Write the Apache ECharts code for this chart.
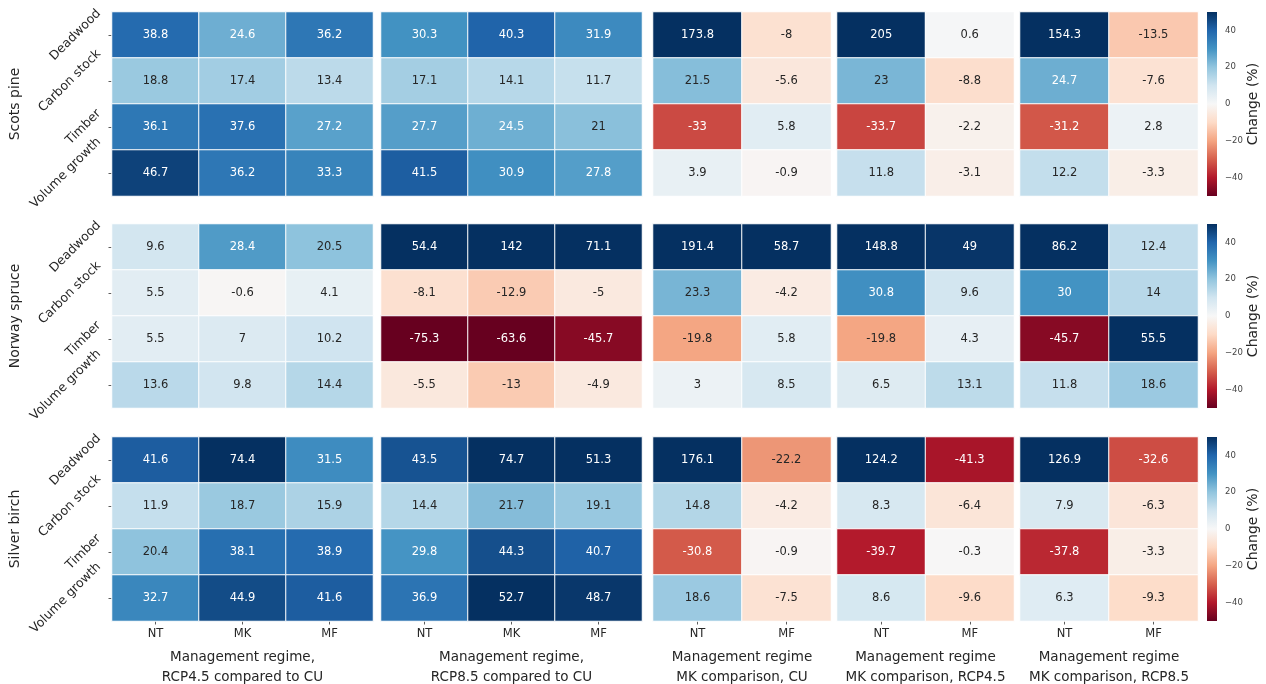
<!DOCTYPE html>
<html>
<head>
<meta charset="utf-8">
<title>Change (%) by management regime</title>
<script src="https://cdn.jsdelivr.net/npm/echarts@6/dist/echarts.min.js"></script>
<style>
  html, body { margin: 0; padding: 0; background: #ffffff; }
  #chart { width: 1266px; height: 684px; }
</style>
</head>
<body>
<div id="chart"></div>
<script>
// ---- categories ----
const species = ['Scots pine', 'Norway spruce', 'Silver birch'];
const indicators = ['Deadwood', 'Carbon stock', 'Timber', 'Volume growth'];
const regimesThree = ['NT', 'MK', 'MF'];
const regimesTwo = ['NT', 'MF'];
const panelTitles = [
  'Management regime,\nRCP4.5 compared to CU',
  'Management regime,\nRCP8.5 compared to CU',
  'Management regime\nMK comparison, CU',
  'Management regime\nMK comparison, RCP4.5',
  'Management regime\nMK comparison, RCP8.5'
];
const colorbarTicks = [-40, -20, 0, 20, 40];
const colorbarRange = [-50, 50];

// ---- values (rows: Deadwood, Carbon stock, Timber, Volume growth) ----
const scotsPineRcp45 = [[38.8, 24.6, 36.2], [18.8, 17.4, 13.4], [36.1, 37.6, 27.2], [46.7, 36.2, 33.3]];
const scotsPineRcp85 = [[30.3, 40.3, 31.9], [17.1, 14.1, 11.7], [27.7, 24.5, 21], [41.5, 30.9, 27.8]];
const scotsPineMkCU = [[173.8, -8], [21.5, -5.6], [-33, 5.8], [3.9, -0.9]];
const scotsPineMkRcp45 = [[205, 0.6], [23, -8.8], [-33.7, -2.2], [11.8, -3.1]];
const scotsPineMkRcp85 = [[154.3, -13.5], [24.7, -7.6], [-31.2, 2.8], [12.2, -3.3]];

const norwaySpruceRcp45 = [[9.6, 28.4, 20.5], [5.5, -0.6, 4.1], [5.5, 7, 10.2], [13.6, 9.8, 14.4]];
const norwaySpruceRcp85 = [[54.4, 142, 71.1], [-8.1, -12.9, -5], [-75.3, -63.6, -45.7], [-5.5, -13, -4.9]];
const norwaySpruceMkCU = [[191.4, 58.7], [23.3, -4.2], [-19.8, 5.8], [3, 8.5]];
const norwaySpruceMkRcp45 = [[148.8, 49], [30.8, 9.6], [-19.8, 4.3], [6.5, 13.1]];
const norwaySpruceMkRcp85 = [[86.2, 12.4], [30, 14], [-45.7, 55.5], [11.8, 18.6]];

const silverBirchRcp45 = [[41.6, 74.4, 31.5], [11.9, 18.7, 15.9], [20.4, 38.1, 38.9], [32.7, 44.9, 41.6]];
const silverBirchRcp85 = [[43.5, 74.7, 51.3], [14.4, 21.7, 19.1], [29.8, 44.3, 40.7], [36.9, 52.7, 48.7]];
const silverBirchMkCU = [[176.1, -22.2], [14.8, -4.2], [-30.8, -0.9], [18.6, -7.5]];
const silverBirchMkRcp45 = [[124.2, -41.3], [8.3, -6.4], [-39.7, -0.3], [8.6, -9.6]];
const silverBirchMkRcp85 = [[126.9, -32.6], [7.9, -6.3], [-37.8, -3.3], [6.3, -9.3]];

const panelValues = [
  [scotsPineRcp45, scotsPineRcp85, scotsPineMkCU, scotsPineMkRcp45, scotsPineMkRcp85],
  [norwaySpruceRcp45, norwaySpruceRcp85, norwaySpruceMkCU, norwaySpruceMkRcp45, norwaySpruceMkRcp85],
  [silverBirchRcp45, silverBirchRcp85, silverBirchMkCU, silverBirchMkRcp45, silverBirchMkRcp85]
];
const panelRegimes = [regimesThree, regimesThree, regimesTwo, regimesTwo, regimesTwo];

// ---- layout & style ----
const FONT = 'DejaVu Sans';
const TEXT = '#262626';
const panelLeft = [112, 381, 653, 837, 1020];
const panelWidth = [261, 261, 178, 177, 178];
const rowTop = [12, 224, 437];
const rowHeight = 184;
const barLeft = 1207;
const barWidth = 10;
const rowLabelSize = 12.5;
const rowLabelPad = 8;

// diverging red-blue palette
const RDBU = ['#67001f', '#b2182b', '#d6604d', '#f4a582', '#fddbc7', '#f7f7f7',
              '#d1e5f0', '#92c5de', '#4393c3', '#2166ac', '#053061'];

function hexToRgb(h) {
  return [parseInt(h.slice(1, 3), 16), parseInt(h.slice(3, 5), 16), parseInt(h.slice(5, 7), 16)];
}
function paletteAt(v) {
  const t = Math.max(0, Math.min(1, (v - colorbarRange[0]) / (colorbarRange[1] - colorbarRange[0])));
  const pos = t * (RDBU.length - 1);
  const i = Math.min(RDBU.length - 2, Math.floor(pos));
  const f = pos - i;
  const a = hexToRgb(RDBU[i]), b = hexToRgb(RDBU[i + 1]);
  return [0, 1, 2].map(k => a[k] + (b[k] - a[k]) * f);
}
// dark annotation on light cells, white on dark cells
function annotColor(v) {
  const lin = paletteAt(v).map(c => {
    c /= 255;
    return c <= 0.03928 ? c / 12.92 : Math.pow((c + 0.055) / 1.055, 2.4);
  });
  const lum = 0.2126 * lin[0] + 0.7152 * lin[1] + 0.0722 * lin[2];
  return lum > 0.408 ? TEXT : '#ffffff';
}
function tickText(v) {
  return v < 0 ? '\u2212' + Math.abs(v) : String(v);
}

const grid = [], xAxis = [], yAxis = [], series = [], heatmapIdx = [];

for (let r = 0; r < species.length; r++) {
  for (let p = 0; p < panelValues[r].length; p++) {
    const gi = grid.length;
    const isBottom = r === species.length - 1;
    const isFirst = p === 0;
    grid.push({
      left: panelLeft[p], top: rowTop[r], width: panelWidth[p], height: rowHeight,
      outerBoundsMode: 'none'
    });
    xAxis.push({
      gridIndex: gi, type: 'category', data: panelRegimes[p], position: 'bottom',
      axisLine: { show: false },
      axisTick: { show: isBottom, alignWithLabel: true, length: 3.5, lineStyle: { color: '#333', width: 0.8 } },
      axisLabel: { show: isBottom, fontFamily: FONT, fontSize: 11.5, color: TEXT, margin: 7 },
      splitLine: { show: false },
      name: isBottom ? panelTitles[p] : '',
      nameLocation: 'middle', nameGap: 26,
      nameTextStyle: { fontFamily: FONT, fontSize: 13.5, lineHeight: 20, color: TEXT }
    });
    yAxis.push({
      gridIndex: gi, type: 'category', data: indicators, inverse: true,
      axisLine: { show: false },
      axisTick: { show: isFirst, alignWithLabel: true, length: 3.5, lineStyle: { color: '#333', width: 0.8 } },
      axisLabel: { show: false },
      splitLine: { show: false },
      name: isFirst ? species[r] : '',
      nameLocation: 'middle', nameRotate: 90, nameGap: 90,
      nameTextStyle: { fontFamily: FONT, fontSize: 14, color: TEXT }
    });
    const data = [];
    const vals = panelValues[r][p];
    for (let i = 0; i < indicators.length; i++) {
      for (let j = 0; j < panelRegimes[p].length; j++) {
        const v = vals[i][j];
        data.push({ value: [j, i, v], label: { color: annotColor(v) } });
      }
    }
    heatmapIdx.push(series.length);
    series.push({
      type: 'heatmap', xAxisIndex: gi, yAxisIndex: gi, data: data,
      label: {
        show: true, fontFamily: FONT, fontSize: 11.5,
        formatter: (prm) => String(prm.value[2])
      },
      itemStyle: { borderColor: '#ffffff', borderWidth: 1 },
      emphasis: { disabled: true }
    });
  }
}

// colour bars, one per species row
for (let r = 0; r < species.length; r++) {
  const gi = grid.length;
  grid.push({ left: barLeft, top: rowTop[r], width: barWidth, height: rowHeight, outerBoundsMode: 'none' });
  xAxis.push({ gridIndex: gi, type: 'value', min: 0, max: 1, show: false });
  yAxis.push({
    gridIndex: gi, type: 'value', position: 'right',
    min: colorbarRange[0], max: colorbarRange[1],
    axisLine: { show: false }, splitLine: { show: false },
    axisTick: { show: true, customValues: colorbarTicks, length: 3, lineStyle: { color: '#444', width: 0.8 } },
    axisLabel: { show: true, customValues: colorbarTicks, formatter: tickText, fontFamily: FONT, fontSize: 8.5, color: '#444', margin: 8 },
    name: 'Change (%)', nameLocation: 'middle', nameRotate: 90, nameGap: 27,
    nameTextStyle: { fontFamily: FONT, fontSize: 14, color: TEXT }
  });
  series.push({
    type: 'custom', xAxisIndex: gi, yAxisIndex: gi, clip: false,
    data: [[0, colorbarRange[0], colorbarRange[1]]],
    encode: { x: 0, y: [1, 2] },
    renderItem: (params, api) => {
      const cs = params.coordSys;
      const top = api.coord([0, api.value(2)]);
      const bottom = api.coord([0, api.value(1)]);
      return {
        type: 'rect',
        shape: { x: cs.x, y: top[1], width: cs.width, height: bottom[1] - top[1] },
        style: {
          fill: new echarts.graphic.LinearGradient(0, 1, 0, 0,
            RDBU.map((c, k) => ({ offset: k / (RDBU.length - 1), color: c })))
        }
      };
    }
  });
}

const chart = echarts.init(document.getElementById('chart'), null, { renderer: 'canvas' });
chart.setOption({
  animation: false,
  backgroundColor: '#ffffff',
  textStyle: { fontFamily: FONT },
  grid: grid,
  xAxis: xAxis,
  yAxis: yAxis,
  visualMap: {
    type: 'continuous', show: false, dimension: 2,
    seriesIndex: heatmapIdx,
    min: colorbarRange[0], max: colorbarRange[1],
    inRange: { color: RDBU },
    outOfRange: { color: RDBU }
  },
  series: series
});

// Row labels rotated 45°: the rotated box is right-aligned to the tick
// and vertically centred on it.
const measureCtx = document.createElement('canvas').getContext('2d');
measureCtx.font = rowLabelSize + 'px "' + FONT + '"';
const rowLabels = [];
const S = Math.SQRT1_2;
for (let r = 0; r < species.length; r++) {
  const gi = r * panelValues[r].length;
  indicators.forEach((name, k) => {
    const pt = chart.convertToPixel({ gridIndex: gi }, [0, k]);
    const L = measureCtx.measureText(name).width;
    const h = rowLabelSize * 1.15;
    const boxW = (L + h) * S;
    rowLabels.push({
      type: 'text',
      x: panelLeft[0] - rowLabelPad - boxW / 2,
      y: pt[1],
      rotation: Math.PI / 4,
      silent: true,
      style: {
        text: name, fill: TEXT, fontFamily: FONT, fontSize: rowLabelSize,
        align: 'center', verticalAlign: 'middle',
        textAlign: 'center', textVerticalAlign: 'middle'
      }
    });
  });
}
chart.setOption({ graphic: rowLabels });
</script>
</body>
</html>
